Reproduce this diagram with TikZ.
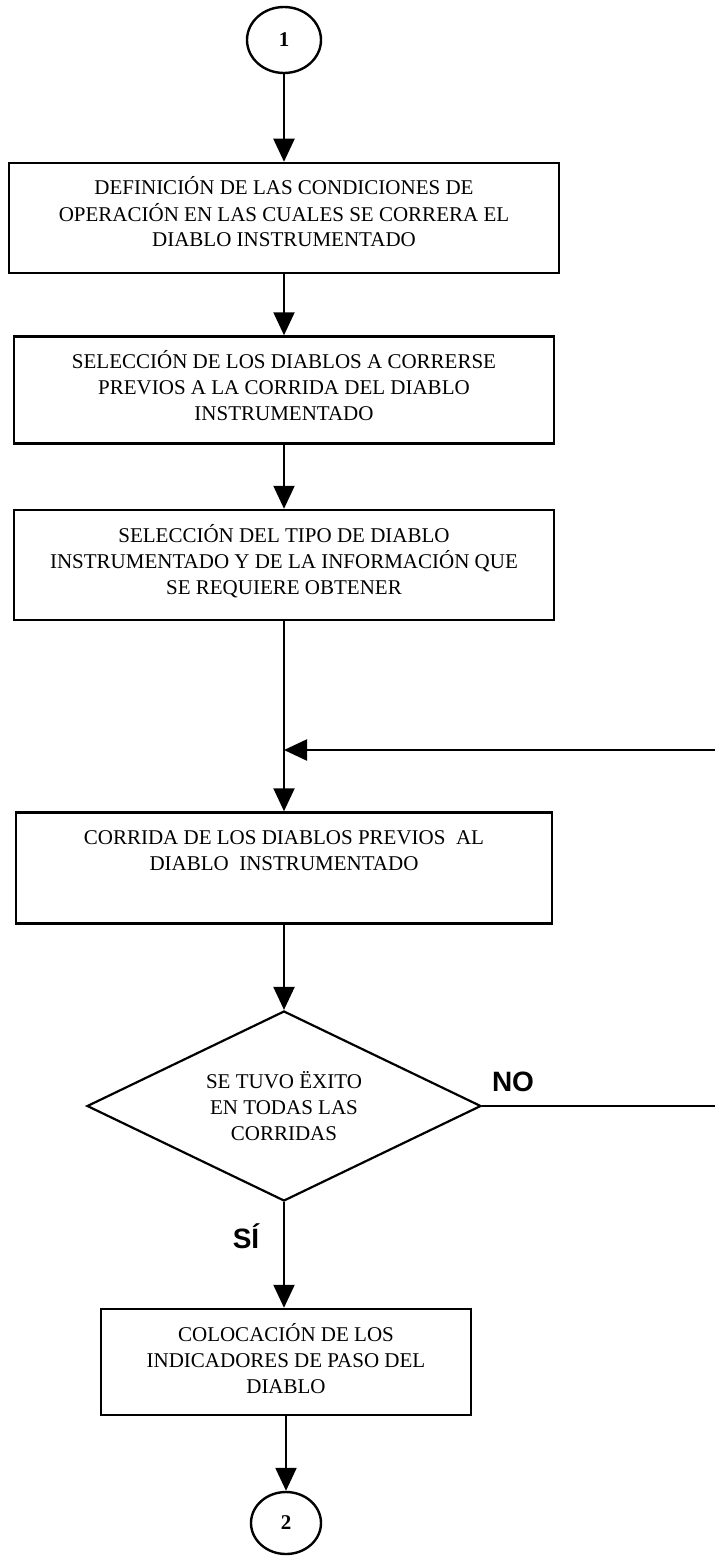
\documentclass[tikz,border=0pt]{standalone}
\usepackage{fontspec}
\setmainfont{Liberation Serif}
\newfontfamily\etiqfont{Liberation Sans}
\usetikzlibrary{
    shapes.geometric,
    arrows.meta
}
\tikzset{
    >={Triangle[width=10.5pt,length=11.5pt]},
    proceso/.style={
        draw,
        line width=1.25pt,
        inner sep=0pt,
        align=center,
        font=\fontsize{10.5}{13}\selectfont
    },
    conector/.style={
        draw,
        ellipse,
        line width=1.2pt,
        inner sep=0pt,
        font=\fontsize{10.5}{13}\selectfont\bfseries
    },
    decision/.style={
        draw,
        diamond,
        line width=1.1pt,
        inner sep=0pt,
        aspect=2,
        align=center,
        font=\fontsize{10.5}{13}\selectfont
    },
    etiqueta/.style={
        inner sep=0pt,
        font=\etiqfont\bfseries\fontsize{14}{16}\selectfont
    },
    flecha/.style={->, line width=1.1pt}
}

\begin{document}
\begin{tikzpicture}[x=0.5pt, y=-0.5pt]

    \useasboundingbox (0,0) rectangle (714,1557);

    % Conectores de pagina
    \node[conector, minimum width=37pt, minimum height=33pt] (c1) at (284,40) {1};
    \node[conector, minimum width=35pt, minimum height=31pt] (c2) at (286,1523) {2};

    % Procesos (texto arriba, hueco abajo)
    \node[proceso, minimum width=275pt, text height=42pt, text depth=13pt] (b1) at (284,218)
        {DEFINICIÓN DE LAS CONDICIONES DE\\OPERACIÓN EN LAS CUALES SE CORRERA EL\\DIABLO INSTRUMENTADO};
    \node[proceso, minimum width=270pt, text height=42pt, text depth=11.5pt] (b2) at (284,390)
        {SELECCIÓN DE LOS DIABLOS A CORRERSE\\PREVIOS A LA CORRIDA DEL DIABLO\\INSTRUMENTADO};
    \node[proceso, minimum width=270pt, text height=42pt, text depth=13pt] (b3) at (284,565)
        {SELECCIÓN DEL TIPO DE DIABLO\\INSTRUMENTADO Y DE LA INFORMACIÓN QUE\\SE REQUIERE OBTENER};
    \node[proceso, minimum width=268pt, text height=29pt, text depth=26.5pt] (b4) at (284,868)
        {CORRIDA DE LOS DIABLOS PREVIOS\ \ AL\\DIABLO\ \ INSTRUMENTADO};
    \node[proceso, minimum width=185pt, text height=42pt, text depth=11pt] (b5) at (286,1362)
        {COLOCACIÓN DE LOS\\INDICADORES DE PASO DEL\\DIABLO};

    % Decision
    \node[decision, minimum width=197pt, minimum height=95pt] (dec) at (284,1106)
        {SE TUVO ËXITO\\EN TODAS LAS\\CORRIDAS};

    % Etiquetas de salida
    \node[etiqueta] (no) at (513,1082) {NO};
    \node[etiqueta] (si) at (246,1236) {SÍ};

    % Puntos del retorno
    \coordinate (union)   at (284,750);
    \coordinate (retorno) at (728,750);

    % Flujo
    \draw[flecha] (c1) -- (b1);
    \draw[flecha] (b1) -- (b2);
    \draw[flecha] (b2) -- (b3);
    \draw[flecha] (b3) -- (b4);
    \draw[flecha] (b4) -- (dec);
    \draw[flecha] (dec.south) -- (dec.south |- b5.north);
    \draw[flecha] (b5.south -| c2) -- (c2);

    % Retorno cuando no hubo exito
    \draw[flecha] (dec.east) -| (retorno) -- (union);

\end{tikzpicture}
\end{document}
